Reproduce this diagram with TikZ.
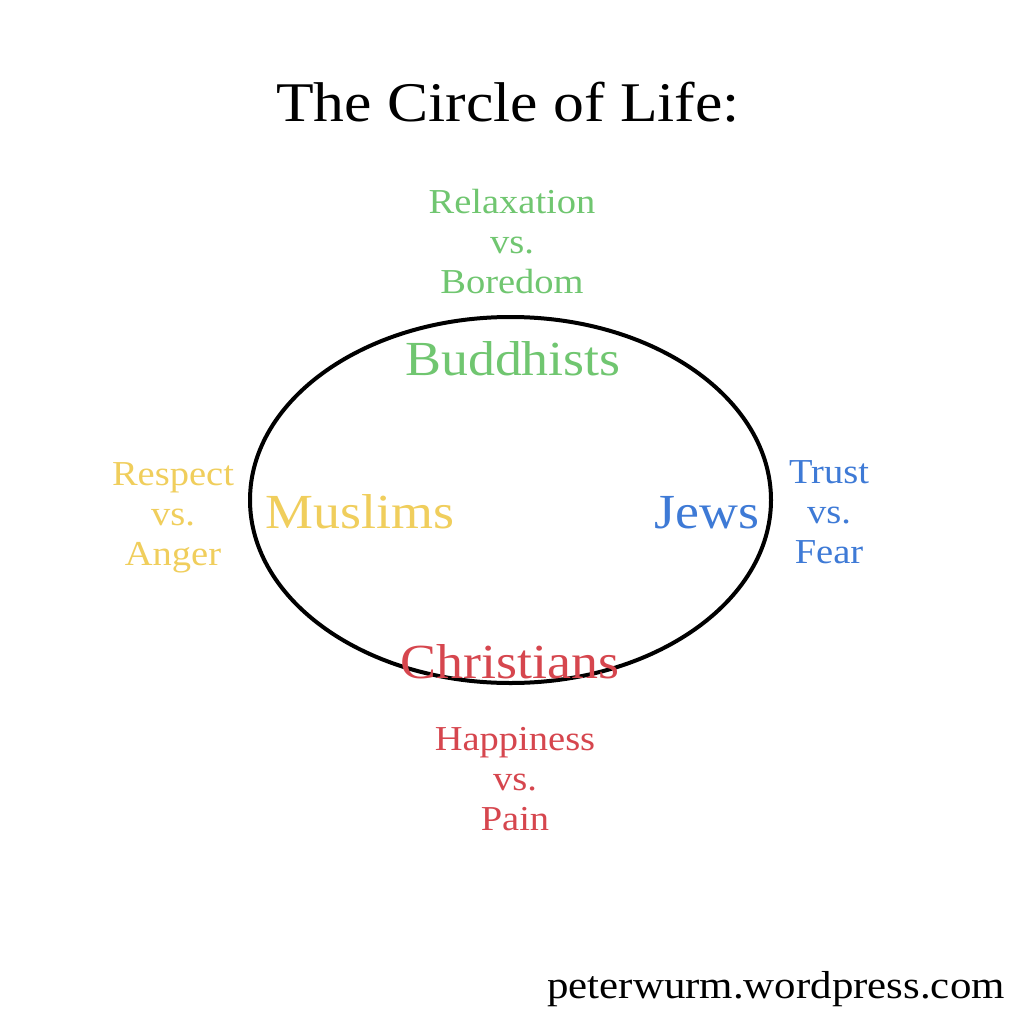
\documentclass[tikz,border=0pt]{standalone}
\usepackage{fontspec}
\setmainfont[FakeStretch=1.1]{Liberation Serif}
\definecolor{cgreen}{RGB}{112,198,112}
\definecolor{cyellow}{RGB}{240,206,92}
\definecolor{cblue}{RGB}{62,122,214}
\definecolor{cred}{RGB}{214,70,78}
\begin{document}
\begin{tikzpicture}[x=1pt,y=-1pt,
  pair/.style={anchor=base,align=center,inner sep=0pt,font=\fontsize{35}{40}\selectfont},
  group/.style={anchor=base,inner sep=0pt,font=\fontsize{49}{55}\selectfont}]
\useasboundingbox[fill=white] (0,0) rectangle (1024,1024);
\node[anchor=base,inner sep=0pt,font=\fontsize{56}{64}\selectfont] (title) at (508,122) {The Circle of Life:};
\draw[line width=4pt] (510.5,500) ellipse [x radius=260.5, y radius=183];
\node[group,text=cgreen] (budd) at (513,375) {Buddhists};
\node[group,text=cyellow] (musl) at (360,528) {Muslims};
\node[group,text=cblue] (jews) at (707,528) {Jews};
\node[group,text=cred] (chri) at (510,678) {Christians};
\node[pair,text=cgreen] (relax) at (512,293) {Relaxation\\vs.\\Boredom};
\node[pair,text=cyellow] (resp) at (173,565) {Respect\\vs.\\Anger};
\node[pair,text=cblue] (trust) at (829,563) {Trust\\vs.\\Fear};
\node[pair,text=cred] (happy) at (515,830) {Happiness\\vs.\\Pain};
\node[anchor=base east,inner sep=0pt,font=\fontsize{39}{46}\selectfont] (url) at (1005,998) {peterwurm.wordpress.com};
\end{tikzpicture}
\end{document}
